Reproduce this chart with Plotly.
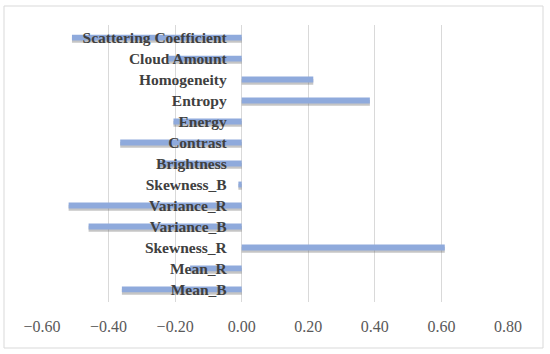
import plotly.graph_objects as go

categories = ["Mean_B", "Mean_R", "Skewness_R", "Variance_B", "Variance_R",
              "Skewness_B", "Brightness", "Contrast", "Energy", "Entropy",
              "Homogeneity", "Cloud Amount", "Scattering Coefficient"]
values = [-0.36, -0.155, 0.61, -0.46, -0.52, -0.01, -0.245, -0.365, -0.205,
          0.385, 0.215, -0.22, -0.51]
x_ticks = [-0.6, -0.4, -0.2, 0.0, 0.2, 0.4, 0.6, 0.8]

x_min, x_max = -0.6, 0.8
bar_w = 0.28

fig = go.Figure()
# soft drop shadow
fig.add_trace(go.Bar(
    x=values, y=categories, orientation="h",
    width=bar_w, offset=-bar_w / 2 - 0.11,
    marker=dict(color="rgba(90,90,90,0.35)", line=dict(width=0)),
    hoverinfo="skip", showlegend=False,
))
fig.add_trace(go.Bar(
    x=values, y=categories, orientation="h",
    width=bar_w, offset=-bar_w / 2,
    marker=dict(color="#8FAADC", line=dict(width=0)),
    showlegend=False,
))

fig.update_layout(
    width=550, height=354,
    margin=dict(l=42, r=42, t=25, b=52, autoexpand=False),
    paper_bgcolor="white", plot_bgcolor="white",
    barmode="overlay",
    font=dict(family="Liberation Serif, serif", color="#404040"),
    xaxis=dict(
        range=[x_min, x_max], tickvals=x_ticks, tickformat=".2f",
        showgrid=True, gridcolor="#d9d9d9", gridwidth=1,
        zeroline=False, showline=False, ticks="",
        ticklabelstandoff=13, automargin=False,
        tickfont=dict(size=16, color="#595959", family="Liberation Serif, serif"),
    ),
    yaxis=dict(
        type="category", categoryorder="array", categoryarray=categories,
        anchor="free", position=(0 - x_min) / (x_max - x_min),
        showgrid=False, zeroline=False, showline=False, ticks="",
        ticklabelstandoff=15, automargin=False,
        tickfont=dict(size=15.5, color="#404040", family="Liberation Serif, serif",
                      weight="bold"),
        range=[-0.6, len(categories) - 0.4],
    ),
    shapes=[dict(
        type="rect", xref="paper", yref="paper",
        x0=(4 - 42) / 466, x1=(543 - 42) / 466,
        y0=(302 - 348) / 277, y1=(302 - 6) / 277,
        line=dict(color="#d9d9d9", width=1), fillcolor="rgba(0,0,0,0)",
        layer="below",
    )],
)

fig.write_html("out.html",
               config={"displayModeBar": False},
               post_script="document.body.style.margin='0';document.body.style.overflow='hidden';")
